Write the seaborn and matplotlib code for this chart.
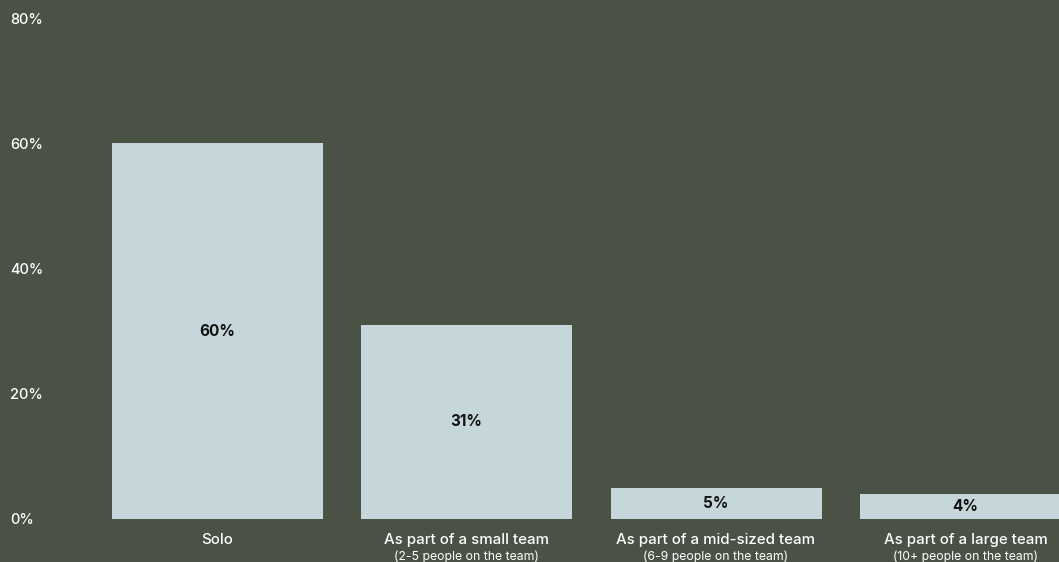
import matplotlib
matplotlib.use("Agg")
import matplotlib.pyplot as plt
import matplotlib.transforms as mtransforms
import seaborn as sns
import pandas as pd

# Survey: how respondents work
categories = ["Solo", "As part of a small team", "As part of a mid-sized team", "As part of a large team"]
subtitles = ["", "(2-5 people on the team)", "(6-9 people on the team)", "(10+ people on the team)"]
shares = [60, 31, 5, 4]
y_ticks = [0, 20, 40, 60, 80]
y_tick_labels = ["0%", "20%", "40%", "60%", "80%"]

BG = "#4a5145"
BAR = "#c5d7da"
FG = "#ffffff"

sns.set_theme(style="white")
plt.rcParams["font.family"] = ["Inter", "DejaVu Sans"]

df = pd.DataFrame({"category": categories, "share": shares})

W, H = 1059, 562
STEP = 249.5  # px between category centres
LEFT = 217 - STEP / 2
fig = plt.figure(figsize=(W / 100, H / 100), dpi=100, facecolor=BG)
ax = fig.add_axes([LEFT / W, 43 / H, (W - LEFT) / W, 501 / H])
ax.set_facecolor(BG)

sns.barplot(data=df, x="category", y="share", color=BAR, width=211 / STEP,
            saturation=1, ax=ax, order=categories, linewidth=0, edgecolor=BAR)

ax.set_xlim(-0.5, -0.5 + (W - LEFT) / STEP)
ax.set_ylim(0, 80)
for s in ax.spines.values():
    s.set_visible(False)

ax.set_xlabel("")
ax.set_ylabel("")
ax.set_yticks(y_ticks)
ax.set_yticklabels(y_tick_labels, color=FG, fontsize=10.5, ha="left", fontweight="medium")
ax.tick_params(axis="y", length=0, pad=(LEFT - 10) * 0.72)
ax.set_xticks(range(len(categories)))
ax.set_xticklabels(categories, color=FG, fontsize=10.8, fontweight="medium")
ax.tick_params(axis="x", length=0, pad=10)

trans = mtransforms.blended_transform_factory(ax.transData, ax.transAxes)
for i, sub in enumerate(subtitles):
    if sub:
        ax.annotate(sub, xy=(i, 0), xycoords=trans, xytext=(0, -22.5),
                    textcoords="offset points", ha="center", va="top",
                    color=FG, fontsize=8.8, annotation_clip=False)

for i, v in enumerate(shares):
    ax.text(i, v / 2, f"{v}%", ha="center", va="center", color="#111111",
            fontsize=11, fontweight="bold")

fig.savefig("out.png", dpi=100, facecolor=BG)
